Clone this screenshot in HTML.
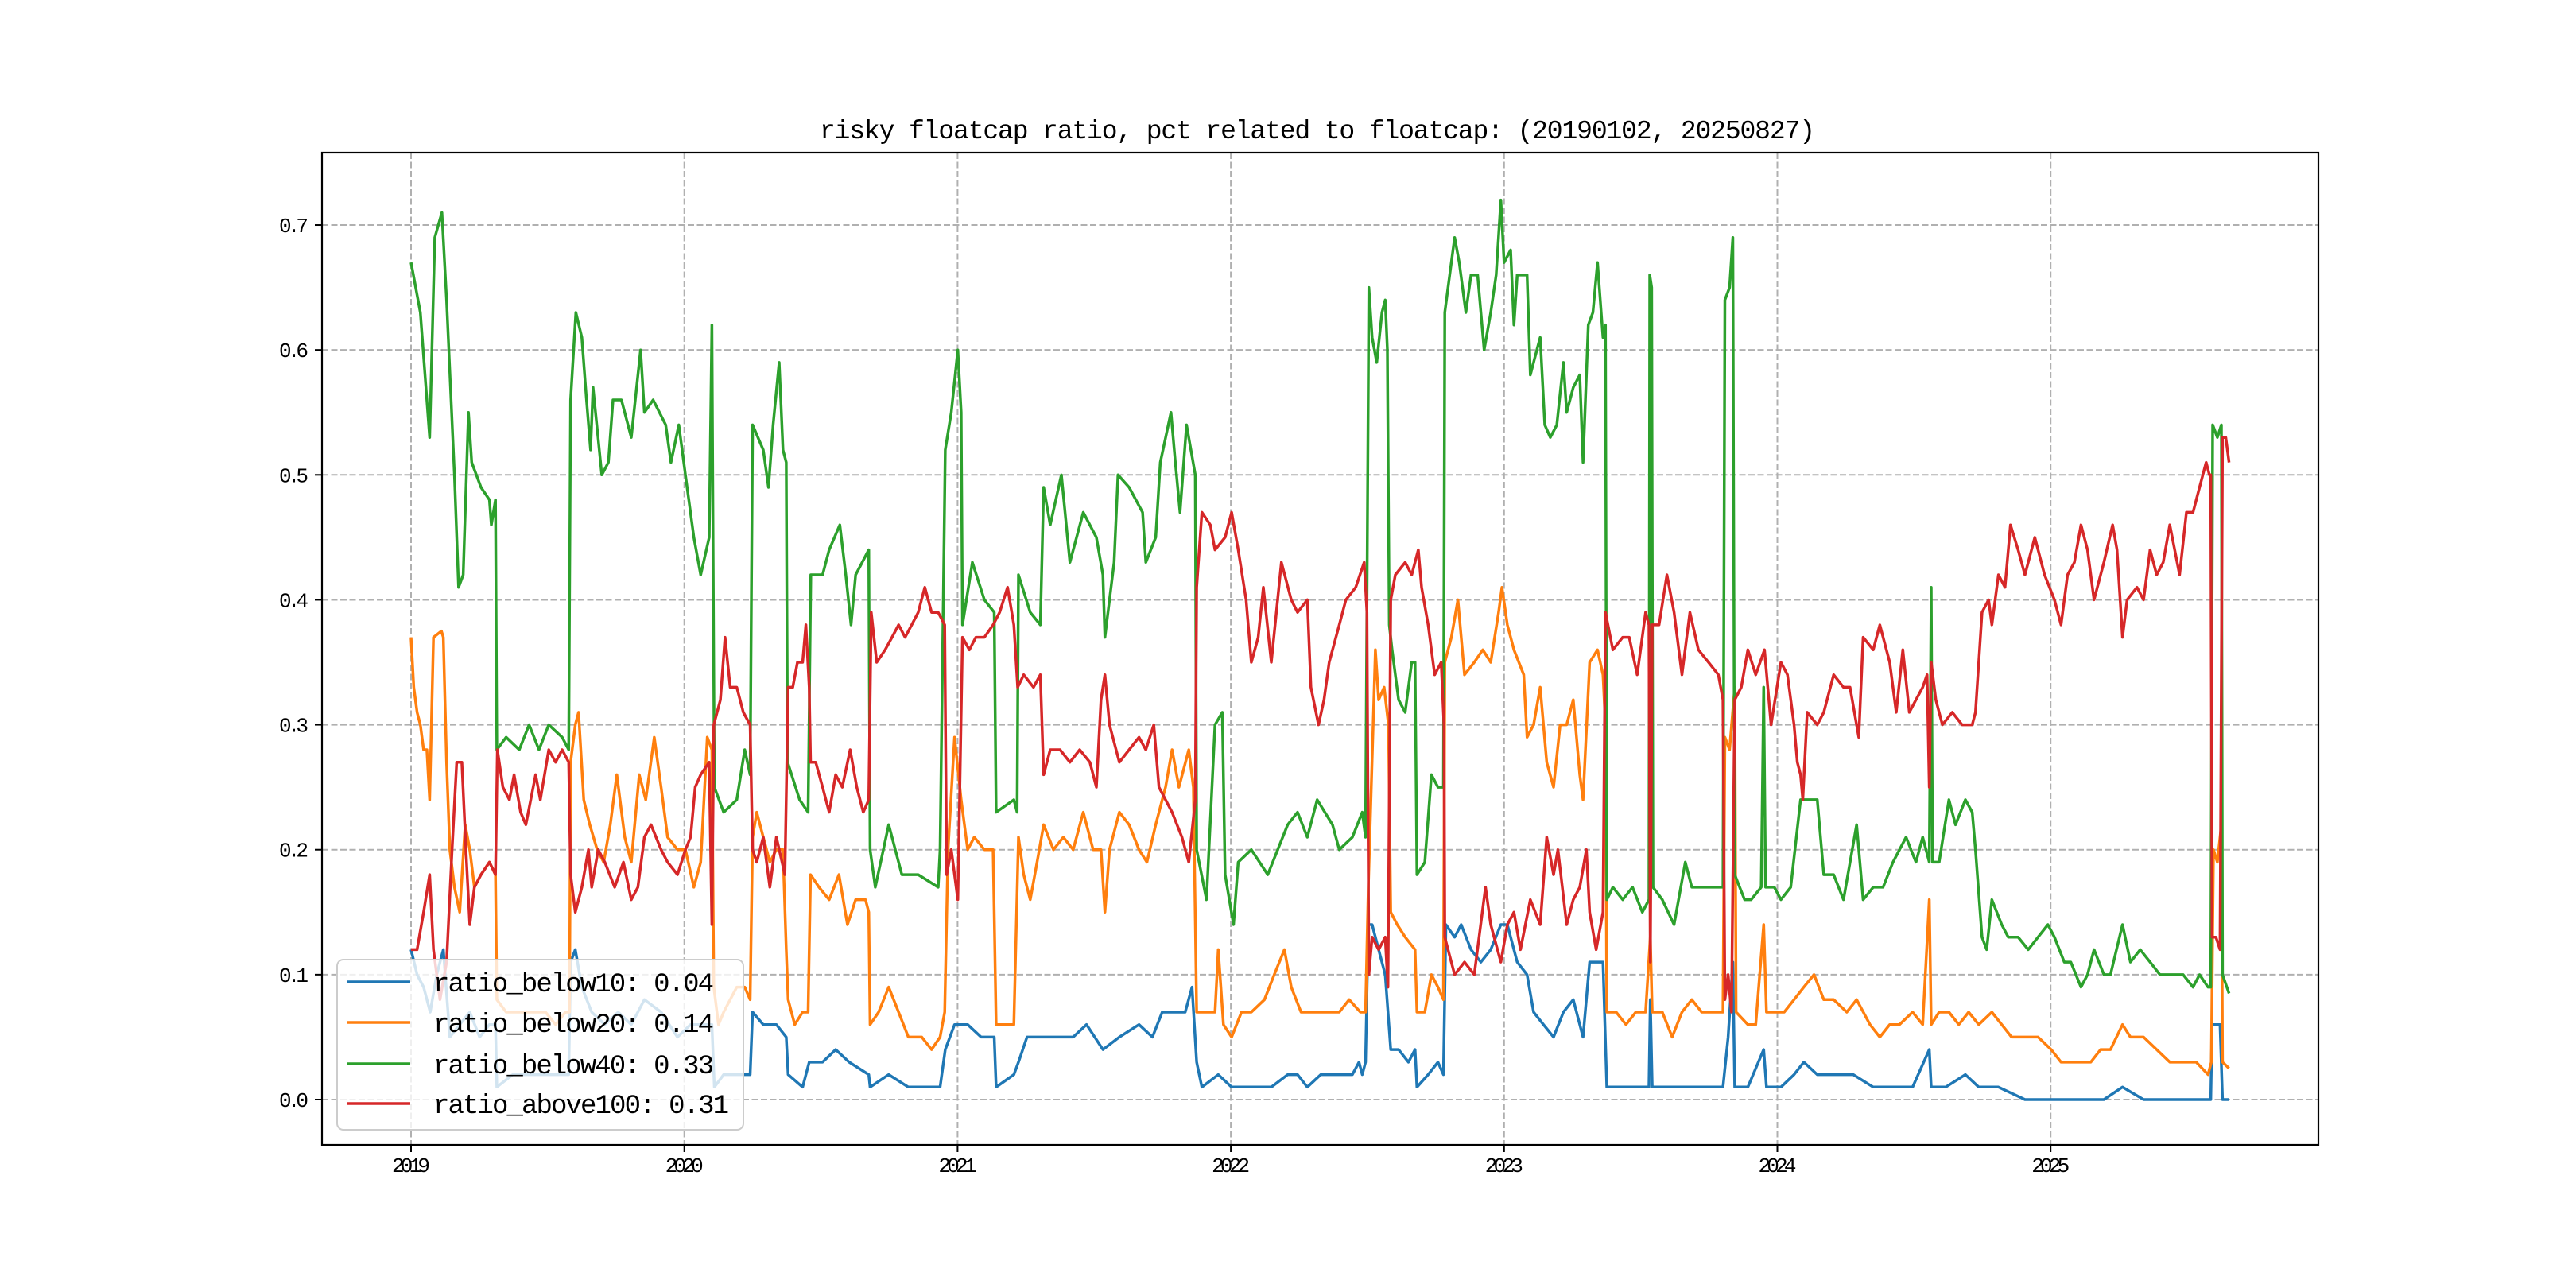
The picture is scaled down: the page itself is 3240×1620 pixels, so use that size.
<!DOCTYPE html>
<html><head><meta charset="utf-8"><title>risky floatcap ratio</title>
<style>html,body{margin:0;padding:0;background:#fff}svg{display:block}</style></head>
<body>
<svg id="chart" width="3240" height="1620" viewBox="0 0 3240 1620" xmlns="http://www.w3.org/2000/svg">
<rect x="0" y="0" width="3240" height="1620" fill="#fff"/>
<text x="1657" y="174" text-anchor="middle" font-family="Liberation Mono, monospace" font-size="33" textLength="1252" fill="#000">risky floatcap ratio, pct related to floatcap: (20190102, 20250827)</text>
<g id="grid"></g>
<g id="series"></g>
<rect x="405" y="192" width="2511" height="1248" fill="none" stroke="#000" stroke-width="2.2"/>
<g id="ticks"></g>
<g id="legend"></g>
</svg>
<script>
const xTickYears = [2019, 2020, 2021, 2022, 2023, 2024, 2025];
const yTickValues = [0.0, 0.1, 0.2, 0.3, 0.4, 0.5, 0.6, 0.7];
const yTickLabels = ["0.0", "0.1", "0.2", "0.3", "0.4", "0.5", "0.6", "0.7"];
const seriesNames = ["ratio_below10", "ratio_below20", "ratio_below40", "ratio_above100"];
const latestValues = ["0.04", "0.14", "0.33", "0.31"];

// [years since 2019-01-01, value]
const below40 = [[0,0.67],[0.034,0.63],[0.068,0.53],[0.087,0.69],[0.113,0.71],[0.13,0.64],[0.159,0.5],[0.174,0.41],[0.191,0.42],[0.21,0.55],[0.222,0.51],[0.256,0.49],[0.287,0.48],[0.294,0.46],[0.309,0.48],[0.314,0.28],[0.348,0.29],[0.396,0.28],[0.432,0.30],[0.468,0.28],[0.504,0.30],[0.553,0.29],[0.577,0.28],[0.584,0.56],[0.603,0.63],[0.625,0.61],[0.642,0.56],[0.657,0.52],[0.666,0.57],[0.698,0.50],[0.722,0.51],[0.739,0.56],[0.77,0.56],[0.806,0.53],[0.84,0.60],[0.854,0.55],[0.886,0.56],[0.932,0.54],[0.951,0.51],[0.98,0.54],[1.004,0.50],[1.035,0.45],[1.06,0.42],[1.091,0.45],[1.101,0.62],[1.11,0.25],[1.144,0.23],[1.192,0.24],[1.221,0.28],[1.241,0.26],[1.25,0.54],[1.289,0.52],[1.308,0.49],[1.325,0.54],[1.347,0.59],[1.361,0.52],[1.373,0.51],[1.378,0.27],[1.422,0.24],[1.453,0.23],[1.463,0.42],[1.506,0.42],[1.53,0.44],[1.569,0.46],[1.591,0.42],[1.61,0.38],[1.627,0.42],[1.675,0.44],[1.68,0.20],[1.699,0.17],[1.748,0.22],[1.796,0.18],[1.856,0.18],[1.929,0.17],[1.936,0.20],[1.955,0.52],[1.977,0.55],[2.001,0.60],[2.013,0.55],[2.018,0.38],[2.054,0.43],[2.098,0.40],[2.134,0.39],[2.141,0.23],[2.206,0.24],[2.218,0.23],[2.223,0.42],[2.266,0.39],[2.303,0.38],[2.315,0.49],[2.339,0.46],[2.38,0.50],[2.411,0.43],[2.46,0.47],[2.508,0.45],[2.532,0.42],[2.539,0.37],[2.573,0.43],[2.587,0.50],[2.628,0.49],[2.677,0.47],[2.689,0.43],[2.725,0.45],[2.742,0.51],[2.781,0.55],[2.797,0.51],[2.814,0.47],[2.838,0.54],[2.87,0.50],[2.875,0.20],[2.911,0.16],[2.942,0.30],[2.969,0.31],[2.979,0.18],[3.01,0.14],[3.027,0.19],[3.075,0.20],[3.135,0.18],[3.208,0.22],[3.244,0.23],[3.28,0.21],[3.316,0.24],[3.372,0.22],[3.397,0.20],[3.445,0.21],[3.481,0.23],[3.493,0.21],[3.505,0.65],[3.517,0.61],[3.534,0.59],[3.553,0.63],[3.565,0.64],[3.573,0.60],[3.58,0.38],[3.59,0.36],[3.614,0.32],[3.638,0.31],[3.662,0.35],[3.674,0.35],[3.681,0.18],[3.71,0.19],[3.734,0.26],[3.758,0.25],[3.778,0.25],[3.783,0.63],[3.795,0.65],[3.819,0.69],[3.836,0.67],[3.86,0.63],[3.879,0.66],[3.903,0.66],[3.927,0.60],[3.951,0.63],[3.971,0.66],[3.988,0.72],[4.0,0.67],[4.024,0.68],[4.036,0.62],[4.048,0.66],[4.084,0.66],[4.096,0.58],[4.12,0.60],[4.132,0.61],[4.149,0.54],[4.169,0.53],[4.193,0.54],[4.217,0.59],[4.229,0.55],[4.253,0.57],[4.277,0.58],[4.289,0.51],[4.308,0.62],[4.325,0.63],[4.342,0.67],[4.362,0.61],[4.371,0.62],[4.376,0.16],[4.398,0.17],[4.434,0.16],[4.47,0.17],[4.506,0.15],[4.53,0.16],[4.533,0.66],[4.54,0.65],[4.545,0.17],[4.579,0.16],[4.622,0.14],[4.663,0.19],[4.687,0.17],[4.723,0.17],[4.772,0.17],[4.801,0.17],[4.808,0.64],[4.825,0.65],[4.837,0.69],[4.844,0.18],[4.88,0.16],[4.904,0.16],[4.941,0.17],[4.95,0.33],[4.957,0.17],[4.989,0.17],[5.013,0.16],[5.049,0.17],[5.085,0.24],[5.121,0.24],[5.146,0.24],[5.17,0.18],[5.206,0.18],[5.242,0.16],[5.29,0.22],[5.314,0.16],[5.351,0.17],[5.387,0.17],[5.423,0.19],[5.471,0.21],[5.507,0.19],[5.532,0.21],[5.556,0.19],[5.563,0.41],[5.568,0.19],[5.592,0.19],[5.628,0.24],[5.652,0.22],[5.688,0.24],[5.713,0.23],[5.725,0.20],[5.749,0.13],[5.766,0.12],[5.785,0.16],[5.821,0.14],[5.845,0.13],[5.881,0.13],[5.918,0.12],[5.954,0.13],[5.99,0.14],[6.014,0.13],[6.05,0.11],[6.074,0.11],[6.111,0.09],[6.135,0.10],[6.159,0.12],[6.195,0.10],[6.219,0.10],[6.263,0.14],[6.292,0.11],[6.328,0.12],[6.364,0.11],[6.4,0.10],[6.436,0.10],[6.485,0.10],[6.521,0.09],[6.545,0.10],[6.576,0.09],[6.586,0.09],[6.593,0.54],[6.61,0.53],[6.625,0.54],[6.629,0.10],[6.653,0.085]];

const above100 = [[0,0.12],[0.022,0.12],[0.046,0.15],[0.068,0.18],[0.082,0.12],[0.106,0.08],[0.13,0.11],[0.15,0.20],[0.167,0.27],[0.186,0.27],[0.203,0.19],[0.215,0.14],[0.232,0.17],[0.256,0.18],[0.287,0.19],[0.309,0.18],[0.316,0.28],[0.336,0.25],[0.36,0.24],[0.377,0.26],[0.401,0.23],[0.42,0.22],[0.456,0.26],[0.473,0.24],[0.504,0.28],[0.529,0.27],[0.553,0.28],[0.577,0.27],[0.584,0.18],[0.601,0.15],[0.625,0.17],[0.649,0.20],[0.661,0.17],[0.685,0.20],[0.709,0.19],[0.745,0.17],[0.777,0.19],[0.806,0.16],[0.83,0.17],[0.854,0.21],[0.878,0.22],[0.915,0.20],[0.939,0.19],[0.975,0.18],[1.004,0.20],[1.023,0.21],[1.04,0.25],[1.06,0.26],[1.091,0.27],[1.101,0.14],[1.108,0.30],[1.132,0.32],[1.149,0.37],[1.168,0.33],[1.192,0.33],[1.216,0.31],[1.241,0.30],[1.25,0.20],[1.265,0.19],[1.289,0.21],[1.313,0.17],[1.337,0.21],[1.368,0.18],[1.38,0.33],[1.397,0.33],[1.414,0.35],[1.433,0.35],[1.445,0.38],[1.457,0.33],[1.462,0.27],[1.481,0.27],[1.506,0.25],[1.53,0.23],[1.554,0.26],[1.578,0.25],[1.607,0.28],[1.631,0.25],[1.655,0.23],[1.675,0.24],[1.684,0.39],[1.704,0.35],[1.735,0.36],[1.76,0.37],[1.784,0.38],[1.808,0.37],[1.832,0.38],[1.856,0.39],[1.88,0.41],[1.905,0.39],[1.929,0.39],[1.953,0.38],[1.96,0.18],[1.977,0.20],[2.001,0.16],[2.018,0.37],[2.043,0.36],[2.067,0.37],[2.098,0.37],[2.13,0.38],[2.154,0.39],[2.183,0.41],[2.206,0.38],[2.22,0.33],[2.242,0.34],[2.278,0.33],[2.303,0.34],[2.315,0.26],[2.339,0.28],[2.375,0.28],[2.411,0.27],[2.447,0.28],[2.484,0.27],[2.508,0.25],[2.525,0.32],[2.539,0.34],[2.556,0.30],[2.592,0.27],[2.628,0.28],[2.664,0.29],[2.689,0.28],[2.718,0.30],[2.737,0.25],[2.761,0.24],[2.785,0.23],[2.821,0.21],[2.846,0.19],[2.87,0.24],[2.875,0.41],[2.894,0.47],[2.925,0.46],[2.942,0.44],[2.979,0.45],[3.003,0.47],[3.027,0.44],[3.056,0.40],[3.075,0.35],[3.1,0.37],[3.119,0.41],[3.148,0.35],[3.185,0.43],[3.221,0.40],[3.244,0.39],[3.28,0.40],[3.293,0.33],[3.321,0.30],[3.341,0.32],[3.36,0.35],[3.397,0.38],[3.421,0.40],[3.457,0.41],[3.488,0.43],[3.498,0.39],[3.505,0.10],[3.517,0.13],[3.541,0.12],[3.565,0.13],[3.575,0.09],[3.585,0.40],[3.602,0.42],[3.638,0.43],[3.662,0.42],[3.686,0.44],[3.698,0.41],[3.722,0.38],[3.746,0.34],[3.77,0.35],[3.78,0.30],[3.783,0.13],[3.795,0.12],[3.819,0.10],[3.855,0.11],[3.891,0.10],[3.932,0.17],[3.951,0.14],[3.988,0.11],[4.012,0.14],[4.036,0.15],[4.06,0.12],[4.096,0.16],[4.132,0.14],[4.156,0.21],[4.181,0.18],[4.197,0.20],[4.229,0.14],[4.253,0.16],[4.277,0.17],[4.301,0.20],[4.313,0.15],[4.337,0.12],[4.362,0.15],[4.371,0.39],[4.398,0.36],[4.434,0.37],[4.458,0.37],[4.487,0.34],[4.518,0.39],[4.53,0.38],[4.535,0.11],[4.542,0.38],[4.567,0.38],[4.596,0.42],[4.622,0.39],[4.651,0.34],[4.68,0.39],[4.711,0.36],[4.748,0.35],[4.784,0.34],[4.801,0.32],[4.808,0.08],[4.82,0.10],[4.832,0.07],[4.844,0.32],[4.868,0.33],[4.892,0.36],[4.921,0.34],[4.953,0.36],[4.977,0.30],[5.013,0.35],[5.037,0.34],[5.061,0.30],[5.073,0.27],[5.085,0.26],[5.093,0.24],[5.109,0.31],[5.146,0.30],[5.17,0.31],[5.206,0.34],[5.242,0.33],[5.266,0.33],[5.298,0.29],[5.314,0.37],[5.351,0.36],[5.375,0.38],[5.411,0.35],[5.435,0.31],[5.459,0.36],[5.483,0.31],[5.507,0.32],[5.532,0.33],[5.548,0.34],[5.556,0.25],[5.563,0.35],[5.58,0.32],[5.604,0.30],[5.64,0.31],[5.676,0.30],[5.713,0.30],[5.725,0.31],[5.749,0.39],[5.773,0.40],[5.785,0.38],[5.809,0.42],[5.833,0.41],[5.853,0.46],[5.881,0.44],[5.906,0.42],[5.942,0.45],[5.978,0.42],[6.014,0.40],[6.038,0.38],[6.062,0.42],[6.087,0.43],[6.111,0.46],[6.135,0.44],[6.159,0.40],[6.195,0.43],[6.227,0.46],[6.243,0.44],[6.263,0.37],[6.28,0.40],[6.316,0.41],[6.34,0.40],[6.364,0.44],[6.388,0.42],[6.412,0.43],[6.436,0.46],[6.472,0.42],[6.497,0.47],[6.521,0.47],[6.545,0.49],[6.569,0.51],[6.581,0.50],[6.586,0.50],[6.591,0.13],[6.605,0.13],[6.62,0.12],[6.629,0.53],[6.641,0.53],[6.653,0.51]];

const below20 = [[0,0.37],[0.01,0.33],[0.022,0.31],[0.034,0.30],[0.046,0.28],[0.058,0.28],[0.068,0.24],[0.082,0.37],[0.111,0.375],[0.118,0.37],[0.13,0.27],[0.142,0.20],[0.159,0.17],[0.178,0.15],[0.198,0.22],[0.215,0.20],[0.232,0.17],[0.256,0.18],[0.287,0.19],[0.309,0.18],[0.314,0.08],[0.348,0.07],[0.384,0.07],[0.42,0.07],[0.456,0.07],[0.492,0.07],[0.529,0.06],[0.565,0.07],[0.58,0.07],[0.584,0.27],[0.601,0.30],[0.613,0.31],[0.632,0.24],[0.654,0.22],[0.681,0.20],[0.705,0.19],[0.729,0.22],[0.753,0.26],[0.782,0.21],[0.806,0.19],[0.835,0.26],[0.859,0.24],[0.89,0.29],[0.915,0.25],[0.939,0.21],[0.975,0.20],[1.004,0.20],[1.035,0.17],[1.06,0.19],[1.084,0.29],[1.101,0.28],[1.108,0.09],[1.125,0.06],[1.144,0.07],[1.168,0.08],[1.192,0.09],[1.221,0.09],[1.241,0.08],[1.25,0.21],[1.265,0.23],[1.289,0.21],[1.313,0.19],[1.337,0.20],[1.361,0.20],[1.373,0.12],[1.38,0.08],[1.404,0.06],[1.433,0.07],[1.453,0.07],[1.462,0.18],[1.493,0.17],[1.53,0.16],[1.566,0.18],[1.597,0.14],[1.627,0.16],[1.663,0.16],[1.675,0.15],[1.68,0.06],[1.711,0.07],[1.748,0.09],[1.784,0.07],[1.82,0.05],[1.869,0.05],[1.905,0.04],[1.936,0.05],[1.953,0.07],[1.965,0.20],[1.989,0.29],[2.013,0.24],[2.037,0.20],[2.061,0.21],[2.098,0.20],[2.13,0.20],[2.141,0.06],[2.17,0.06],[2.206,0.06],[2.223,0.21],[2.242,0.18],[2.266,0.16],[2.291,0.19],[2.315,0.22],[2.351,0.20],[2.387,0.21],[2.423,0.20],[2.46,0.23],[2.496,0.20],[2.525,0.20],[2.539,0.15],[2.556,0.20],[2.592,0.23],[2.628,0.22],[2.664,0.20],[2.693,0.19],[2.725,0.22],[2.761,0.25],[2.785,0.28],[2.81,0.25],[2.846,0.28],[2.863,0.25],[2.875,0.07],[2.906,0.07],[2.942,0.07],[2.954,0.12],[2.973,0.06],[3.003,0.05],[3.039,0.07],[3.075,0.07],[3.123,0.08],[3.159,0.10],[3.196,0.12],[3.221,0.09],[3.257,0.07],[3.293,0.07],[3.348,0.07],[3.397,0.07],[3.433,0.08],[3.474,0.07],[3.493,0.07],[3.503,0.17],[3.529,0.36],[3.541,0.32],[3.561,0.33],[3.577,0.30],[3.585,0.15],[3.609,0.14],[3.638,0.13],[3.674,0.12],[3.681,0.07],[3.71,0.07],[3.734,0.10],[3.758,0.09],[3.778,0.08],[3.783,0.35],[3.807,0.37],[3.831,0.40],[3.855,0.34],[3.891,0.35],[3.922,0.36],[3.951,0.35],[3.98,0.39],[3.992,0.41],[4.012,0.38],[4.036,0.36],[4.072,0.34],[4.084,0.29],[4.108,0.30],[4.132,0.33],[4.156,0.27],[4.181,0.25],[4.205,0.30],[4.229,0.30],[4.253,0.32],[4.277,0.26],[4.289,0.24],[4.313,0.35],[4.342,0.36],[4.362,0.34],[4.371,0.30],[4.376,0.07],[4.41,0.07],[4.446,0.06],[4.482,0.07],[4.518,0.07],[4.535,0.13],[4.542,0.07],[4.579,0.07],[4.615,0.05],[4.651,0.07],[4.687,0.08],[4.723,0.07],[4.772,0.07],[4.801,0.07],[4.808,0.29],[4.825,0.28],[4.844,0.33],[4.849,0.07],[4.892,0.06],[4.921,0.06],[4.95,0.14],[4.96,0.07],[4.989,0.07],[5.025,0.07],[5.061,0.08],[5.097,0.09],[5.134,0.10],[5.17,0.08],[5.206,0.08],[5.254,0.07],[5.29,0.08],[5.339,0.06],[5.375,0.05],[5.411,0.06],[5.447,0.06],[5.495,0.07],[5.532,0.06],[5.556,0.16],[5.563,0.06],[5.592,0.07],[5.628,0.07],[5.664,0.06],[5.7,0.07],[5.737,0.06],[5.785,0.07],[5.821,0.06],[5.857,0.05],[5.906,0.05],[5.954,0.05],[6.002,0.04],[6.038,0.03],[6.074,0.03],[6.111,0.03],[6.147,0.03],[6.183,0.04],[6.219,0.04],[6.263,0.06],[6.292,0.05],[6.34,0.05],[6.388,0.04],[6.436,0.03],[6.485,0.03],[6.533,0.03],[6.576,0.02],[6.588,0.03],[6.596,0.20],[6.61,0.19],[6.625,0.22],[6.629,0.03],[6.653,0.025]];

const below10 = [[0,0.12],[0.022,0.10],[0.046,0.09],[0.070,0.07],[0.094,0.10],[0.118,0.12],[0.142,0.05],[0.178,0.06],[0.215,0.07],[0.251,0.05],[0.287,0.06],[0.309,0.06],[0.314,0.01],[0.372,0.02],[0.444,0.02],[0.517,0.02],[0.577,0.02],[0.584,0.11],[0.601,0.12],[0.625,0.09],[0.661,0.07],[0.709,0.06],[0.758,0.07],[0.806,0.06],[0.854,0.08],[0.915,0.07],[0.975,0.05],[1.023,0.06],[1.072,0.06],[1.101,0.06],[1.11,0.01],[1.144,0.02],[1.192,0.02],[1.241,0.02],[1.25,0.07],[1.289,0.06],[1.337,0.06],[1.373,0.05],[1.38,0.02],[1.433,0.01],[1.457,0.03],[1.506,0.03],[1.554,0.04],[1.603,0.03],[1.675,0.02],[1.68,0.01],[1.748,0.02],[1.82,0.01],[1.88,0.01],[1.936,0.01],[1.955,0.04],[1.989,0.06],[2.037,0.06],[2.086,0.05],[2.134,0.05],[2.141,0.01],[2.206,0.02],[2.223,0.03],[2.254,0.05],[2.303,0.05],[2.375,0.05],[2.423,0.05],[2.472,0.06],[2.532,0.04],[2.592,0.05],[2.664,0.06],[2.713,0.05],[2.749,0.07],[2.797,0.07],[2.833,0.07],[2.858,0.09],[2.875,0.03],[2.894,0.01],[2.954,0.02],[3.003,0.01],[3.075,0.01],[3.148,0.01],[3.208,0.02],[3.244,0.02],[3.28,0.01],[3.329,0.02],[3.372,0.02],[3.445,0.02],[3.469,0.03],[3.481,0.02],[3.493,0.03],[3.503,0.14],[3.517,0.14],[3.541,0.12],[3.565,0.10],[3.585,0.04],[3.614,0.04],[3.65,0.03],[3.674,0.04],[3.681,0.01],[3.722,0.02],[3.758,0.03],[3.778,0.02],[3.787,0.14],[3.819,0.13],[3.843,0.14],[3.879,0.12],[3.915,0.11],[3.951,0.12],[3.988,0.14],[4.012,0.14],[4.048,0.11],[4.084,0.10],[4.108,0.07],[4.144,0.06],[4.181,0.05],[4.217,0.07],[4.253,0.08],[4.289,0.05],[4.313,0.11],[4.342,0.11],[4.362,0.11],[4.376,0.01],[4.434,0.01],[4.494,0.01],[4.53,0.01],[4.535,0.08],[4.542,0.01],[4.603,0.01],[4.675,0.01],[4.748,0.01],[4.801,0.01],[4.82,0.05],[4.837,0.11],[4.844,0.01],[4.892,0.01],[4.95,0.04],[4.96,0.01],[5.013,0.01],[5.061,0.02],[5.097,0.03],[5.146,0.02],[5.206,0.02],[5.278,0.02],[5.351,0.01],[5.423,0.01],[5.495,0.01],[5.556,0.04],[5.563,0.01],[5.616,0.01],[5.688,0.02],[5.737,0.01],[5.809,0.01],[5.906,0.00],[6.002,0.00],[6.099,0.00],[6.195,0.00],[6.263,0.01],[6.34,0.00],[6.436,0.00],[6.533,0.00],[6.586,0.00],[6.591,0.06],[6.62,0.06],[6.629,0.00],[6.653,0.00]];

const X0 = 517, PX_PER_YEAR = 343.7, Y0 = 1383, PX_PER_UNIT = 1571.4;
function xScale(t){ return X0 + t * PX_PER_YEAR; }
function yScale(v){ return Y0 - v * PX_PER_UNIT; }
const NS = "http://www.w3.org/2000/svg";
function mk(tag, attrs, parent){ const e = document.createElementNS(NS, tag); for (const k in attrs) e.setAttribute(k, attrs[k]); parent.appendChild(e); return e; }

const grid = document.getElementById('grid');
const ticks = document.getElementById('ticks');
xTickYears.forEach(function(yr){
  const x = xScale(yr - 2019);
  const gl = mk('line', {x1:x, x2:x, y1:192, y2:1440, stroke:'#b0b0b0', 'stroke-width':2, 'stroke-dasharray':'8,3.5'}, grid);
  
  
  const tk = mk('line', {x1:x, x2:x, y1:1440, y2:1449, stroke:'#000', 'stroke-width':2}, ticks);
  
  
  const tx = mk('text', {x:x, y:1474, 'text-anchor':'middle', 'font-family':'Liberation Mono, monospace', 'font-size':26, textLength:48, fill:'#000'}, ticks);
  tx.textContent = String(yr);
  
  
});
yTickValues.forEach(function(v, i){
  const y = yScale(v);
  const gl = mk('line', {x1:405, x2:2916, y1:y, y2:y, stroke:'#b0b0b0', 'stroke-width':2, 'stroke-dasharray':'8,3.5'}, grid);
  
  
  const tk = mk('line', {x1:396, x2:405, y1:y, y2:y, stroke:'#000', 'stroke-width':2}, ticks);
  
  
  const tx = mk('text', {x:388, y:y+9, 'text-anchor':'end', 'font-family':'Liberation Mono, monospace', 'font-size':26, textLength:37, fill:'#000'}, ticks);
  tx.textContent = yTickLabels[i];
  
  
});

const colors = ['#1f77b4', '#ff7f0e', '#2ca02c', '#d62728'];
const seriesData = [below10, below20, below40, above100];
const seriesG = document.getElementById('series');
seriesData.forEach(function(data, i){
  const d = data.map(function(p, j){ return (j ? 'L' : 'M') + xScale(p[0]).toFixed(1) + ',' + yScale(p[1]).toFixed(1); }).join('');
  const path = mk('path', {d:d, fill:'none', stroke:colors[i], 'stroke-width':3.5, 'stroke-linejoin':'round'}, seriesG);
  
  
});

const legend = document.getElementById('legend');
const box = mk('rect', {x:424, y:1207, width:511, height:214, rx:8, fill:'#fff', 'fill-opacity':0.8, stroke:'#cccccc', 'stroke-width':2}, legend);


const legendRows = [1235, 1286, 1338, 1388];
seriesNames.forEach(function(name, i){
  const y = legendRows[i];
  const ln = mk('line', {x1:437, x2:516, y1:y, y2:y, stroke:colors[i], 'stroke-width':3.5}, legend);
  
  
  const label = name + ': ' + latestValues[i];
  const tx = mk('text', {x:545, y:y+12, 'font-family':'Liberation Mono, monospace', 'font-size':34, textLength:(label.length * 18.6).toFixed(0), fill:'#000'}, legend);
  tx.textContent = label;
  
  
});
</script>
</body></html>
